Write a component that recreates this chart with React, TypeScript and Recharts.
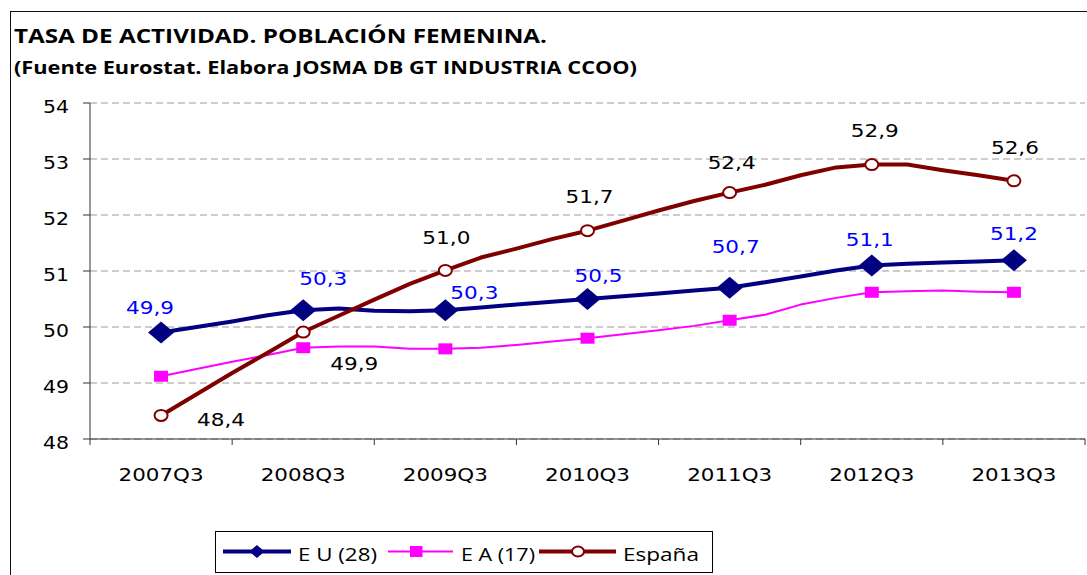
import { LineChart, Line, XAxis, YAxis, CartesianGrid, LabelList } from 'recharts';

// quarterly series, only the Q3 points carry a marker and a label
const quarters = [
  '2007Q3', '2007Q4', '2008Q1', '2008Q2',
  '2008Q3', '2008Q4', '2009Q1', '2009Q2',
  '2009Q3', '2009Q4', '2010Q1', '2010Q2',
  '2010Q3', '2010Q4', '2011Q1', '2011Q2',
  '2011Q3', '2011Q4', '2012Q1', '2012Q2',
  '2012Q3', '2012Q4', '2013Q1', '2013Q2',
  '2013Q3',
];

const euValues = [
  49.9, 50.0, 50.1, 50.21,
  50.3, 50.33, 50.29, 50.28,
  50.3, 50.35, 50.4, 50.45,
  50.5, 50.55, 50.6, 50.65,
  50.7, 50.8, 50.9, 51.01,
  51.1, 51.13, 51.15, 51.17,
  51.19,
];

const eaValues = [
  49.12, 49.25, 49.38, 49.5,
  49.63, 49.65, 49.65, 49.61,
  49.61, 49.63, 49.68, 49.74,
  49.8, 49.87, 49.94, 50.02,
  50.12, 50.22, 50.4, 50.52,
  50.62, 50.64, 50.65, 50.63,
  50.62,
];

const esValues = [
  48.42, 48.8, 49.18, 49.54,
  49.91, 50.2, 50.49, 50.77,
  51.01, 51.24, 51.4, 51.57,
  51.72, 51.9, 52.08, 52.25,
  52.4, 52.54, 52.71, 52.85,
  52.9, 52.9, 52.8, 52.71,
  52.61,
];

const yTicks = [48, 49, 50, 51, 52, 53, 54];

const seriesNames = ['E U (28)', 'E A (17)', 'España'];

// label placement around each Q3 point (dx, dy to label centre)
const euLabelOffsets = [[-11, -25], [20, -32], [29, -18], [11, -24], [6, -41], [-2, -26], [0, -27]];
const esLabelOffsets = [[60, 4], [51, 31], [1, -33], [2, -34], [2, -30], [3, -34], [1, -33]];

const q3Index = quarters.map((q, i) => (q.endsWith('Q3') ? i : -1)).filter((i) => i >= 0);
const xTicks = [q3Index[0] - 2, ...q3Index.flatMap((i) => [i, i + 2])];

const data = quarters.map((q, i) => ({
  i,
  q,
  eu: euValues[i],
  ea: eaValues[i],
  es: esValues[i],
}));

const AXIS = '#333';
const NAVY = '#000080';
const MAGENTA = '#FF00FF';
const MAROON = '#800000';
const TICK_FONT = '"DejaVu Sans", Verdana, sans-serif';
const TITLE_FONT = '"Open Sans", Calibri, sans-serif';

const fmt = (v: number) => v.toFixed(1).replace('.', ',');

function XTick(props: any) {
  const { x, y, payload } = props;
  const label = quarters[payload.value];
  if (label && label.endsWith('Q3')) {
    return (
      <text
        x={x}
        y={y + 42.4}
        textAnchor="middle"
        textLength={85}
        lengthAdjust="spacingAndGlyphs"
        fontFamily={TICK_FONT}
        fontSize={18}
        fill="#000"
      >
        {label}
      </text>
    );
  }
  return <line x1={x} x2={x} y1={y} y2={y + 6} stroke={AXIS} strokeWidth={1} />;
}

function YTick(props: any) {
  const { x, y, payload } = props;
  return (
    <g>
      <line x1={x - 7} x2={x} y1={y} y2={y} stroke={AXIS} strokeWidth={1} />
      <text
        x={x - 34}
        y={y + 10}
        textAnchor="middle"
        textLength={26}
        lengthAdjust="spacingAndGlyphs"
        fontFamily={TICK_FONT}
        fontSize={18}
        fill="#000"
      >
        {payload.value}
      </text>
    </g>
  );
}

const isQ3 = (index: number) => quarters[index] !== undefined && quarters[index].endsWith('Q3');

function Diamond(p: any) {
  const { cx, cy, index } = p;
  if (!isQ3(index)) return <g key={`eu-${index}`} />;
  return (
    <polygon
      key={`eu-${index}`}
      points={`${cx - 13},${cy} ${cx},${cy - 11} ${cx + 13},${cy} ${cx},${cy + 11}`}
      fill={NAVY}
    />
  );
}

function Square(p: any) {
  const { cx, cy, index } = p;
  if (!isQ3(index)) return <g key={`ea-${index}`} />;
  return <rect key={`ea-${index}`} x={cx - 7} y={cy - 5.5} width={14} height={11} fill={MAGENTA} />;
}

function Circle(p: any) {
  const { cx, cy, index } = p;
  if (!isQ3(index)) return <g key={`es-${index}`} />;
  return (
    <ellipse key={`es-${index}`} cx={cx} cy={cy} rx={6.5} ry={5.5} fill="#fff" stroke={MAROON} strokeWidth={2} />
  );
}

function makeLabel(offsets: number[][], color: string) {
  return (props: any) => {
    const { index, value } = props;
    const k = q3Index.indexOf(index);
    if (k < 0) return null;
    const px = props.x ?? props.viewBox?.x;
    const py = props.y ?? props.viewBox?.y;
    const [dx, dy] = offsets[k];
    return (
      <text
        x={px + dx}
        y={py + dy + 6.5}
        textAnchor="middle"
        textLength={48}
        lengthAdjust="spacingAndGlyphs"
        fontFamily={TICK_FONT}
        fontSize={18}
        fill={color}
      >
        {fmt(value)}
      </text>
    );
  };
}

function LegendBox() {
  const textProps = {
    fontFamily: TITLE_FONT,
    fontSize: 18,
    fill: '#000',
    lengthAdjust: 'spacingAndGlyphs' as const,
  };
  return (
    <svg width={1087} height={575} style={{ position: 'absolute', left: 0, top: 0, pointerEvents: 'none' }}>
      <rect x={215.5} y={531.5} width={497} height={41} fill="#fff" stroke="#000" strokeWidth={1} />
      <line x1={223} x2={291} y1={551.5} y2={551.5} stroke={NAVY} strokeWidth={4} />
      <polygon points="249.5,551.5 257,545 264.5,551.5 257,558" fill={NAVY} />
      <text x={298} y={560.5} textLength={79} {...textProps}>{seriesNames[0]}</text>
      <line x1={388} x2={453} y1={551.5} y2={551.5} stroke={MAGENTA} strokeWidth={2} />
      <rect x={410} y={546} width={12.5} height={11} fill={MAGENTA} />
      <text x={461} y={560.5} textLength={74} {...textProps}>{seriesNames[1]}</text>
      <line x1={539} x2={616} y1={551.5} y2={551.5} stroke={MAROON} strokeWidth={4} />
      <ellipse cx={578} cy={551.5} rx={6} ry={5} fill="#fff" stroke={MAROON} strokeWidth={2} />
      <text x={623} y={560.5} textLength={76} {...textProps}>{seriesNames[2]}</text>
    </svg>
  );
}

export default function App() {
  return (
    <div style={{ position: 'fixed', left: 0, top: 0, width: 1087, height: 575, overflow: 'hidden', background: '#fff' }}>
      <div
        style={{
          position: 'absolute',
          left: 10,
          top: 11,
          width: 1200,
          height: 700,
          border: '1.5px solid #111',
          boxSizing: 'border-box',
        }}
      />
      <svg width={1087} height={100} style={{ position: 'absolute', left: 0, top: 0 }}>
        <text x={14} y={43} textLength={533} lengthAdjust="spacingAndGlyphs" fontFamily={TITLE_FONT} fontWeight={700} fontSize={20} fill="#000">
          TASA DE ACTIVIDAD. POBLACIÓN FEMENINA.
        </text>
        <text x={14} y={73.5} textLength={623} lengthAdjust="spacingAndGlyphs" fontFamily={TITLE_FONT} fontWeight={700} fontSize={17.5} fill="#000">
          (Fuente Eurostat. Elabora JOSMA DB GT INDUSTRIA CCOO)
        </text>
      </svg>
      <div style={{ position: 'absolute', left: 0, top: 0 }}>
        <LineChart width={1087} height={575} data={data} margin={{ top: 103, right: 2, bottom: 0, left: 0 }}>
          <CartesianGrid vertical={false} stroke="#9a9a9a" strokeDasharray="7 4" />
          <XAxis
            type="number"
            dataKey="i"
            domain={[-2, 26]}
            ticks={xTicks}
            interval={0}
            height={136}
            tickSize={0}
            tickMargin={0}
            tickLine={false}
            axisLine={{ stroke: AXIS }}
            tick={XTick}
          />
          <YAxis
            type="number"
            domain={[48, 54]}
            ticks={yTicks}
            interval={0}
            width={90}
            tickSize={0}
            tickMargin={0}
            tickLine={false}
            axisLine={{ stroke: AXIS }}
            tick={YTick}
          />
          <Line
            type="linear"
            dataKey="eu"
            name={seriesNames[0]}
            stroke={NAVY}
            strokeWidth={4}
            strokeLinejoin="round"
            dot={Diamond}
            activeDot={false}
            isAnimationActive={false}
          >
            <LabelList dataKey="eu" content={makeLabel(euLabelOffsets, '#0000FF')} />
          </Line>
          <Line
            type="linear"
            dataKey="ea"
            name={seriesNames[1]}
            stroke={MAGENTA}
            strokeWidth={2}
            strokeLinejoin="round"
            dot={Square}
            activeDot={false}
            isAnimationActive={false}
          />
          <Line
            type="linear"
            dataKey="es"
            name={seriesNames[2]}
            stroke={MAROON}
            strokeWidth={4}
            strokeLinejoin="round"
            dot={Circle}
            activeDot={false}
            isAnimationActive={false}
          >
            <LabelList dataKey="es" content={makeLabel(esLabelOffsets, '#000')} />
          </Line>
        </LineChart>
      </div>
      <LegendBox />
    </div>
  );
}
